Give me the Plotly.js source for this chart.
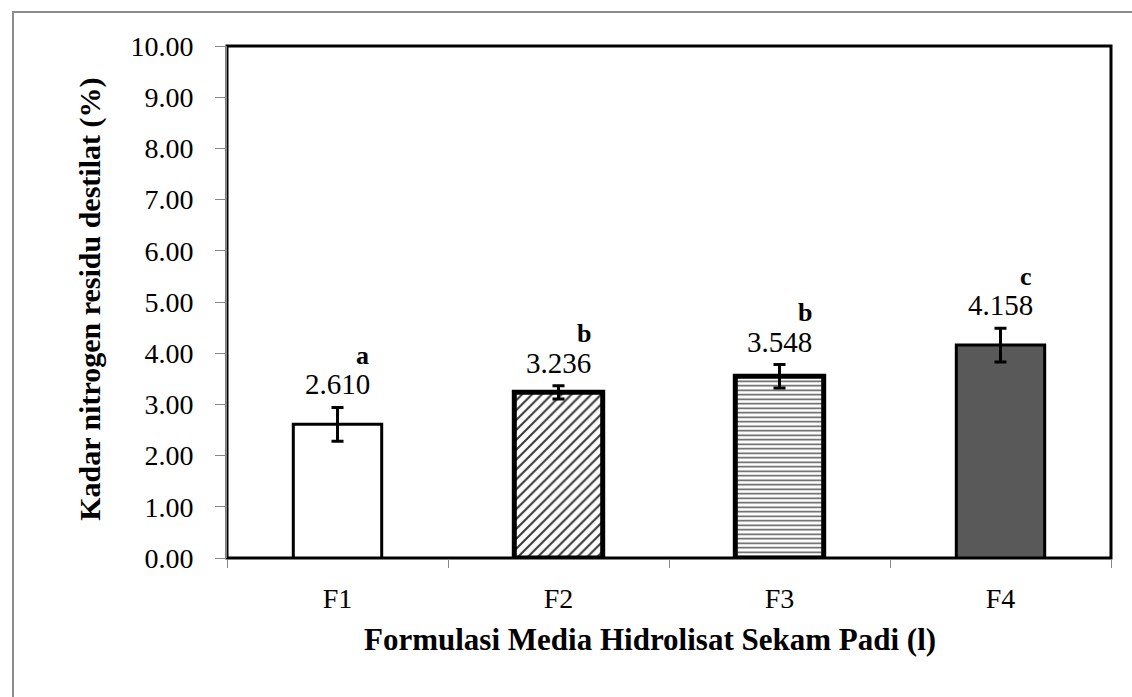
<!DOCTYPE html>
<html>
<head>
<meta charset="utf-8">
<script src="https://cdn.plot.ly/plotly-3.0.1.min.js"></script>
<style>
  html, body { margin: 0; padding: 0; background: #fff; }
  #chart { width: 1132px; height: 697px; }
</style>
</head>
<body>
<div id="chart"></div>
<script>
// Residual nitrogen content of the distillate per media formulation
const categories = ['F1', 'F2', 'F3', 'F4'];
const nitrogen = [2.610, 3.236, 3.548, 4.158];
const stdErr = [0.33, 0.13, 0.23, 0.33];
const groupLetters = ['a', 'b', 'b', 'c'];

const serif = 'Liberation Serif';

// fill style of each bar: plain white, diagonal hatch, horizontal lines, solid grey
const fills = [
  { color: '#ffffff', shape: '', fg: '#000000', size: 8, solidity: 0.3, edge: 3 },
  { color: '#ffffff', shape: '/', fg: '#3a3a3a', size: 7, solidity: 0.3, edge: 5 },
  { color: '#ffffff', shape: '-', fg: '#555555', size: 4.5, solidity: 0.33, edge: 5 },
  { color: '#595959', shape: '', fg: '#000000', size: 8, solidity: 0.3, edge: 3 }
];

const traces = categories.map((c, i) => ({
  type: 'bar',
  name: c,
  x: [c],
  y: [nitrogen[i]],
  width: 0.4,
  marker: {
    color: fills[i].color,
    line: { color: '#000000', width: fills[i].edge },
    pattern: {
      shape: fills[i].shape,
      fgcolor: fills[i].fg,
      bgcolor: fills[i].color,
      size: fills[i].size,
      solidity: fills[i].solidity
    }
  },
  error_y: {
    type: 'data',
    array: [stdErr[i]],
    visible: true,
    color: '#000000',
    thickness: 3,
    width: 6
  },
  hoverinfo: 'x+y'
}));

// Value labels above each error bar, group letters above and to the right
const annotations = [];
categories.forEach((c, i) => {
  const top = nitrogen[i] + stdErr[i];
  annotations.push({
    x: c, y: top, xref: 'x', yref: 'y',
    text: nitrogen[i].toFixed(3),
    showarrow: false, yshift: 23,
    font: { family: serif, size: 29, color: '#000' }
  });
  annotations.push({
    x: c, y: top, xref: 'x', yref: 'y',
    text: '<b>' + groupLetters[i] + '</b>',
    showarrow: false, xshift: 25, yshift: 52,
    font: { family: serif, size: 26, color: '#000' }
  });
});

// Axis titles
annotations.push({
  xref: 'paper', yref: 'paper',
  x: 0.4785, y: -0.16, xanchor: 'center', yanchor: 'middle',
  text: '<b>Formulasi Media Hidrolisat Sekam Padi (l)</b>',
  showarrow: false,
  font: { family: serif, size: 31, color: '#000' }
});
annotations.push({
  xref: 'paper', yref: 'paper',
  x: -0.1545, y: 0.505, xanchor: 'center', yanchor: 'middle',
  text: '<b>Kadar nitrogen residu destilat (%)</b>',
  textangle: -90,
  showarrow: false,
  font: { family: serif, size: 30, color: '#000' }
});

const layout = {
  width: 1132,
  height: 697,
  margin: { l: 227, r: 21, t: 46, b: 139 },
  paper_bgcolor: '#ffffff',
  plot_bgcolor: '#ffffff',
  showlegend: false,
  barmode: 'overlay',
  font: { family: serif, color: '#000' },
  xaxis: {
    type: 'category',
    categoryarray: categories,
    showgrid: false,
    zeroline: false,
    showline: false,
    ticks: 'outside',
    tickson: 'boundaries',
    ticklen: 9,
    tickwidth: 1,
    tickcolor: '#888888',
    ticklabelstandoff: 21,
    tickfont: { family: serif, size: 28, color: '#000' }
  },
  yaxis: {
    range: [0, 10],
    dtick: 1,
    tickformat: '.2f',
    showgrid: false,
    zeroline: false,
    showline: true,
    linecolor: '#888888',
    linewidth: 1,
    ticks: 'outside',
    ticklen: 11,
    tickwidth: 1,
    tickcolor: '#888888',
    ticklabelstandoff: 16,
    tickfont: { family: serif, size: 28, color: '#000' }
  },
  shapes: [
    // plot frame
    {
      type: 'rect', xref: 'paper', yref: 'paper',
      x0: 0, x1: 1, y0: 0, y1: 1,
      line: { color: '#000000', width: 3 },
      layer: 'below'
    },
    // outer chart border
    {
      type: 'rect', xref: 'paper', yref: 'paper',
      x0: -214 / 884, x1: 1.1, y0: -0.3, y1: 1 + 34 / 512,
      line: { color: '#8c8c8c', width: 2 },
      layer: 'below'
    }
  ],
  annotations: annotations
};

Plotly.newPlot('chart', traces, layout, { displayModeBar: false, staticPlot: true });
</script>
</body>
</html>
